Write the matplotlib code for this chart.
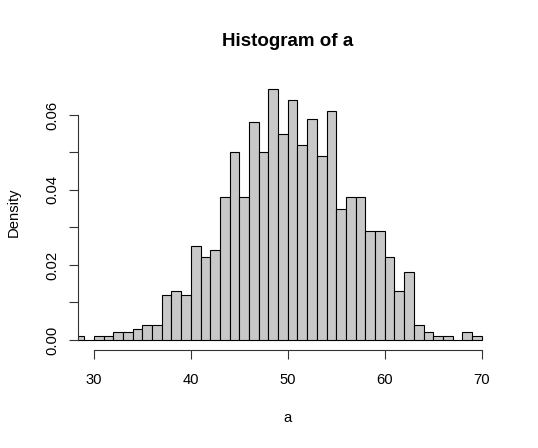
import matplotlib
matplotlib.use("Agg")
import matplotlib.pyplot as plt
import numpy as np

plt.rcParams['font.family'] = ['Liberation Sans', 'DejaVu Sans']

# Histogram data (density per unit-width bin), bins start at 28
bin_start = 28
bin_width = 1
densities = [0.001, 0.000, 0.001, 0.001, 0.002, 0.002, 0.003, 0.004, 0.004,
             0.012, 0.013, 0.012, 0.025, 0.022, 0.024, 0.038, 0.050, 0.038,
             0.058, 0.050, 0.067, 0.055, 0.064, 0.052, 0.059, 0.049, 0.061,
             0.035, 0.038, 0.038, 0.029, 0.029, 0.022, 0.013, 0.018, 0.004,
             0.002, 0.001, 0.001, 0.000, 0.002, 0.001]
x_ticks = [30, 40, 50, 60, 70]
y_ticks = [0.00, 0.01, 0.02, 0.03, 0.04, 0.05, 0.06]
y_tick_labels = ["0.00", "", "0.02", "", "0.04", "", "0.06"]
title = "Histogram of a"
xlabel = "a"
ylabel = "Density"

edges = bin_start + bin_width * np.arange(len(densities))

fig = plt.figure(figsize=(5.38, 4.48), dpi=100)
ax = fig.add_axes([78.3 / 538, (448 - 350.05) / 448, 419 / 538, 271.45 / 448])

ax.bar(edges, densities, width=bin_width, align='edge', color='#c8c8c8',
       edgecolor='black', linewidth=0.8)

ax.set_xlim(28.4, 71.6)
ax.set_ylim(-0.00268, 0.0697)

for s in ['top', 'right']:
    ax.spines[s].set_visible(False)
ax.spines['left'].set_bounds(0, 0.06)
ax.spines['bottom'].set_bounds(30, 70)
for s in ['left', 'bottom']:
    ax.spines[s].set_linewidth(0.8)
    ax.spines[s].set_color('#333333')

ax.set_xticks(x_ticks)
ax.set_yticks(y_ticks)
ax.set_yticklabels(y_tick_labels, rotation=90, va='center')
ax.tick_params(axis='both', length=6.8, width=0.8, color='#333333',
               labelsize=10.6)
ax.tick_params(axis='x', pad=9.7)
ax.tick_params(axis='y', pad=7.0)

fig.text(287.8 / 538, 1 - 41 / 448, title, ha='center', va='center',
         fontsize=13.5, fontweight='bold')
fig.text(287.8 / 538, 1 - 418 / 448, xlabel, ha='center', va='center',
         fontsize=10.6)
fig.text(13.5 / 538, 1 - 212.5 / 448, ylabel, ha='center', va='center',
         fontsize=10.6, rotation=90)

fig.savefig("out.png", dpi=100)
